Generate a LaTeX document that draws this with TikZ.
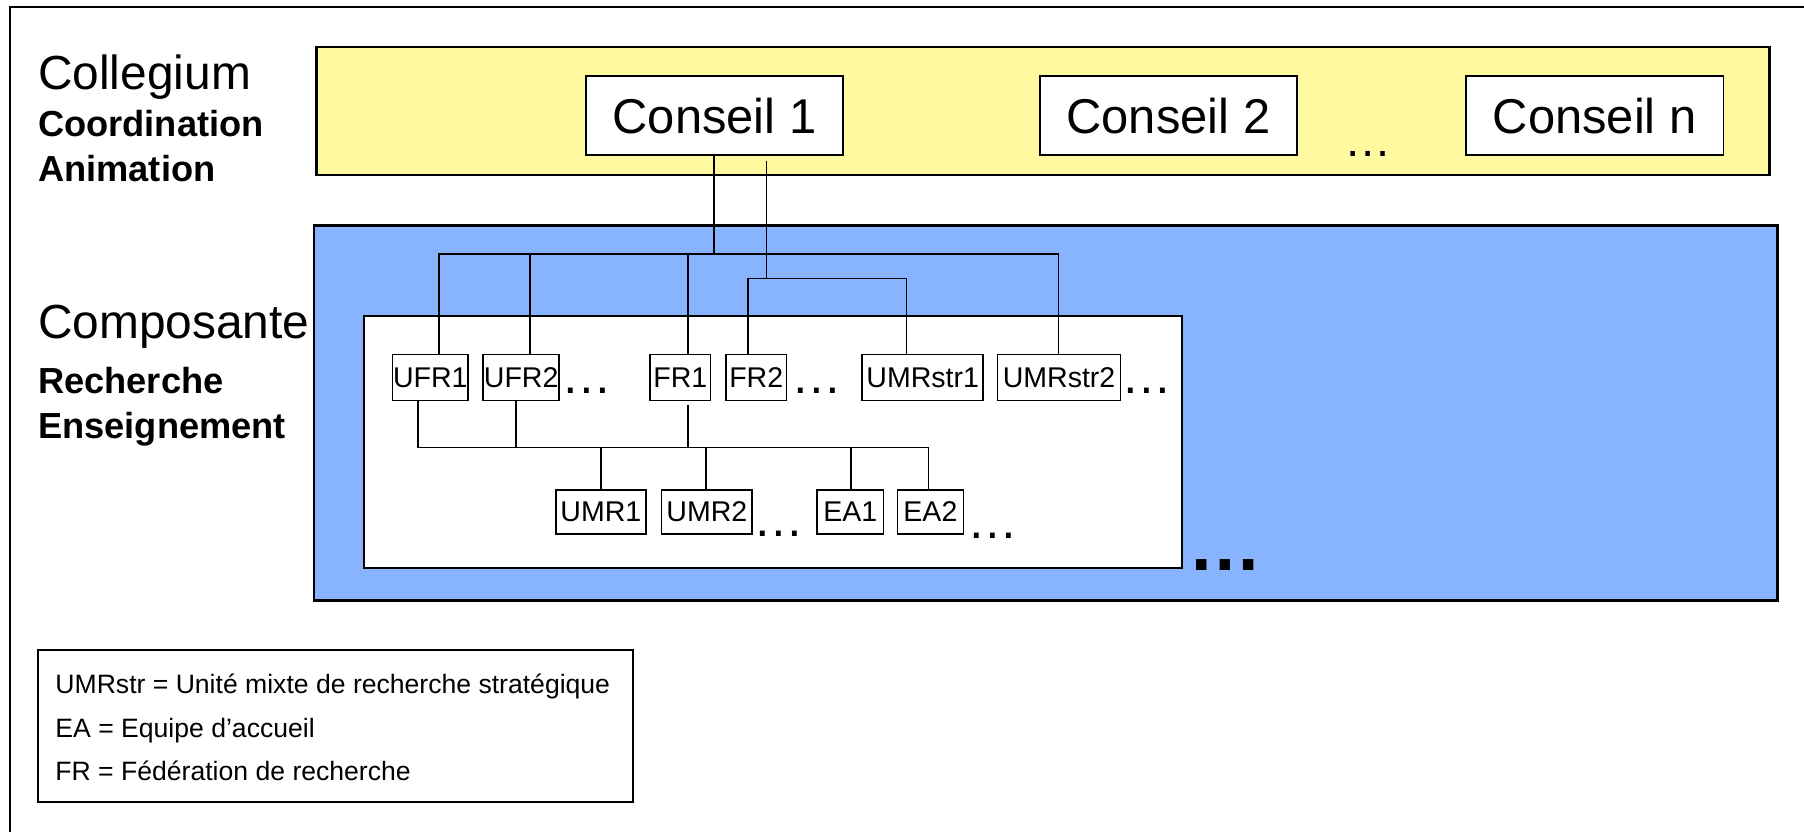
\documentclass[tikz,border=0pt]{standalone}
\usepackage{fontspec}
\setmainfont{Liberation Sans}
\definecolor{collyellow}{RGB}{255,250,160}
\definecolor{compblue}{RGB}{136,180,255}
\begin{document}
\begin{tikzpicture}[x=1pt,y=-1pt,
  bigbox/.style={draw, line width=2.2pt, inner sep=0pt},
  conseil/.style={draw, fill=white, line width=1.6pt, inner sep=0pt, minimum height=69pt, font=\fontsize{42.5}{50}\selectfont},
  unitA/.style={draw, fill=white, line width=1.4pt, inner sep=0pt, minimum height=40pt, font=\fontsize{24.8}{29}\selectfont},
  unitB/.style={draw, fill=white, line width=1.4pt, inner sep=0pt, minimum height=38pt, font=\fontsize{24.8}{29}\selectfont},
  wire/.style={line width=1.5pt},
  biglabel/.style={anchor=base west, inner sep=0pt, font=\fontsize{41.6}{49}\selectfont},
  sublabel/.style={anchor=base west, inner sep=0pt, font=\fontsize{31.5}{37}\selectfont\bfseries},
  legtext/.style={anchor=base west, inner sep=0pt, font=\fontsize{23.1}{27}\selectfont},
  dotsA/.style={anchor=base, inner sep=0pt, font=\fontsize{44}{50}\selectfont},
  dotsB/.style={anchor=base, inner sep=0pt, font=\fontsize{41}{49}\selectfont},
  dotsC/.style={anchor=base, inner sep=0pt, font=\fontsize{64}{70}\selectfont\bfseries}
]
\useasboundingbox (0,0) rectangle (1568,723);
\clip (0,0) rectangle (1568,723);
\fill[white] (-5,-5) rectangle (1575,730);
\draw[line width=1.5pt] (9,740) -- (9,6) -- (1580,6);

% layer boxes
\node[bigbox, fill=collyellow, minimum width=1263pt, minimum height=111pt] (collegium) at (906.5,96.5) {};
\node[bigbox, fill=compblue, minimum width=1272pt, minimum height=326pt] (composante) at (909,359) {};
\node[bigbox, fill=white, line width=1.8pt, minimum width=711pt, minimum height=219pt] (inner) at (671.5,384.5) {};

% left labels
\node[biglabel] (lcoll) at (33,78) {Collegium};
\node[sublabel] (lcoord) at (33,119) {Coordination};
\node[sublabel] (lanim) at (33,158) {Animation};
\node[biglabel] (lcomp) at (33,294) {Composante};
\node[sublabel] (lrech) at (33,342) {Recherche};
\node[sublabel] (lens) at (33,381) {Enseignement};

% conseils
\node[conseil, minimum width=224pt] (c1) at (621,100.5) {Conseil 1};
\node[conseil, minimum width=223pt] (c2) at (1015.5,100.5) {Conseil 2};
\node[conseil, minimum width=224pt] (cn) at (1386,100.5) {Conseil n};
\node[dotsB] (cdots) at (1189,136) {…};

% row 1
\node[unitA, minimum width=66pt] (ufr1) at (374,328) {UFR1};
\node[unitA, minimum width=66pt] (ufr2) at (453,328) {UFR2};
\node[unitA, minimum width=52.6pt] (fr1) at (591.3,328) {FR1};
\node[unitA, minimum width=52.7pt] (fr2) at (657.3,328) {FR2};
\node[unitA, minimum width=105.3pt] (umrstr1) at (802,328) {UMRstr1};
\node[unitA, minimum width=107pt] (umrstr2) at (920.5,328) {UMRstr2};
\node[dotsA] (d1) at (510,342) {…};
\node[dotsA] (d2) at (710,342) {…};
\node[dotsA] (d3) at (997,342) {…};

% row 2
\node[unitB, minimum width=78.6pt] (umr1) at (522.3,445) {UMR1};
\node[unitB, minimum width=78.8pt] (umr2) at (614.4,445) {UMR2};
\node[unitB, minimum width=58pt] (ea1) at (739,445) {EA1};
\node[unitB, minimum width=57.5pt] (ea2) at (808.7,445) {EA2};
\node[dotsA] (d4) at (677,466) {…};
\node[dotsA] (d5) at (863,468) {…};

% big dots
\node[dotsC] (d6) at (1065,496) {…};

% connectors from Conseil 1
\coordinate (busL) at (381.4,221);
\coordinate (busR) at (920,221);
\coordinate (busC) at (620.5,221);
\coordinate (dUFR2) at (460.4,221);
\coordinate (dFR1) at (598,221);
\draw[wire] (c1.south -| busC) -- (busC);
\draw[wire] (ufr1.north -| busL) -- (busL) -- (busR) -- (umrstr2.north -| busR);
\draw[wire] (dUFR2) -- (ufr2.north -| dUFR2);
\draw[wire] (dFR1) -- (fr1.north -| dFR1);

\coordinate (c1b) at (666.2,140);
\coordinate (brk) at (666.2,242);
\coordinate (brkL) at (650,242);
\coordinate (brkR) at (788,242);
\draw[wire] (c1b) -- (brk);
\draw[wire] (fr2.north -| brkL) -- (brkL) -- (brkR) -- (umrstr1.north -| brkR);

% row 1 to row 2
\coordinate (bus2L) at (363.5,389);
\coordinate (bus2R) at (807,389);
\coordinate (u2) at (448.8,389);
\coordinate (f1t) at (598,352);
\coordinate (f1b) at (598,389);
\coordinate (m1) at (522.5,389);
\coordinate (m2) at (613.7,389);
\coordinate (e1) at (739.6,389);
\draw[wire] (ufr1.south -| bus2L) -- (bus2L) -- (bus2R) -- (ea2.north -| bus2R);
\draw[wire] (ufr2.south -| u2) -- (u2);
\draw[wire] (f1t) -- (f1b);
\draw[wire] (m1) -- (umr1.north -| m1);
\draw[wire] (m2) -- (umr2.north -| m2);
\draw[wire] (e1) -- (ea1.north -| e1);

% legend
\node[draw, line width=1.5pt, minimum width=517pt, minimum height=132pt, inner sep=0pt] (legend) at (291.5,631) {};
\node[legtext] (l1) at (48,603) {UMRstr = Unité mixte de recherche stratégique};
\node[legtext] (l2) at (48,641) {EA = Equipe d’accueil};
\node[legtext] (l3) at (48,678) {FR = Fédération de recherche};
\end{tikzpicture}
\end{document}
